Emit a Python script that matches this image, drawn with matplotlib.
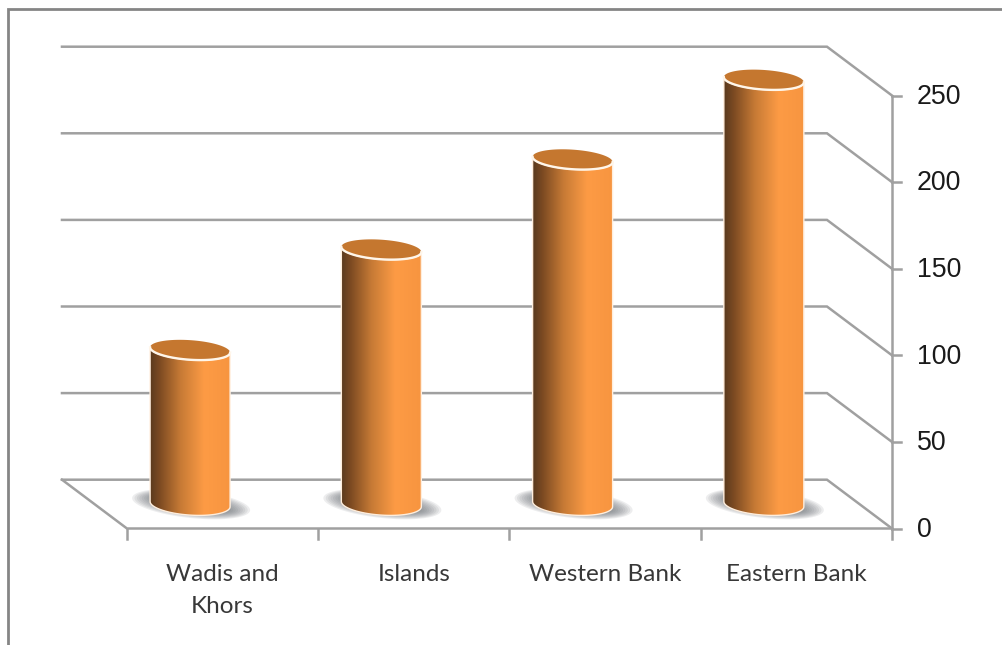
import numpy as np
import matplotlib
matplotlib.use("Agg")
import matplotlib.pyplot as plt
from matplotlib.colors import LinearSegmentedColormap
from matplotlib.patches import PathPatch
from matplotlib.path import Path

# Data
categories = ["Wadis and\nKhors", "Islands", "Western Bank", "Eastern Bank"]
values = [89, 147, 199, 245]
y_ticks = [0, 50, 100, 150, 200, 250]

# Scale of the figure: pixels per category and per unit of value
W, H = 1002, 645
px_x = 191.25
px_y = 1.732
x0_px, y0_px = 222.6, 528.5

fig = plt.figure(figsize=(W / 100, H / 100), dpi=100, facecolor="white")
ax = fig.add_axes([0, 0, 1, 1])
xlim = (-x0_px / px_x, (W - x0_px) / px_x)
ylim = (-(H - y0_px) / px_y, y0_px / px_y)
ax.set_xlim(xlim)
ax.set_ylim(ylim)
ax.axis("off")

# Depth of the 3D box, in data units
depth_x = -65 / px_x
depth_y = 48.8 / px_y
left = -0.5
right = len(categories) - 0.5
grid_col = "#a0a0a0"

# Outer frame
frame_x = xlim[0] + 8 / px_x
frame_y = ylim[1] - 9 / px_y
ax.plot([frame_x, frame_x, xlim[1]], [ylim[0], frame_y, frame_y],
        color="#858585", lw=2, zorder=1, solid_joinstyle="miter")

# Back wall gridlines and the side wall
for v in y_ticks:
    ax.plot([left + depth_x, right + depth_x, right], [v + depth_y, v + depth_y, v],
            color=grid_col, lw=1.8, zorder=2, solid_joinstyle="miter")

# Floor and axes
ax.plot([left + depth_x, left, right], [depth_y, 0, 0], color=grid_col, lw=1.8, zorder=2)
ax.plot([right, right], [0, 250], color=grid_col, lw=1.8, zorder=2)
for i in range(len(categories) + 1):
    ax.plot([left + i] * 2, [0, -6], color=grid_col, lw=1.8, zorder=2)
for v in y_ticks:
    ax.plot([right, right + 0.045], [v, v], color=grid_col, lw=1.8, zorder=2)
    ax.text(right + 0.13, v - 0.8, str(v), ha="left", va="center", fontsize=19.3,
            family="Liberation Sans", color="#1a1a1a")

# Category labels
for i, name in enumerate(categories):
    ax.text(i, -20.5, name, ha="center", va="top", fontsize=17.5, family="Lato",
            color="#383838", linespacing=1.62)

# Cylinders
cyl_cmap = LinearSegmentedColormap.from_list(
    "cyl", [(0, "#5a3a1e"), (0.12, "#7c4a22"), (0.38, "#c67a35"), (0.68, "#fd9b45"), (1, "#f79540")])
half_w = 40 / px_x
base_h = 11 / px_y
lid_h = 9.8 / px_y
lean = 2.6 / px_y  # ellipses drop towards the right


def ellipse_xy(cx, cy, h, t):
    return cx + half_w * np.cos(t), cy + h * np.sin(t) - lean * np.cos(t)


for i, v in enumerate(values):
    cx = i + depth_x / 2
    cy = depth_y / 2

    # Soft shadow on the floor, tilted and wider than the base
    tt = np.linspace(0, 2 * np.pi, 120)
    for k in range(10):
        sw = (59 - k * 2.4) / px_x
        sh = (14 - k * 0.9) / px_y
        ax.fill(cx + 1 / px_x + sw * np.cos(tt),
                cy + sh * np.sin(tt) - 6 / px_y * np.cos(tt),
                facecolor="#6d7278", edgecolor="none", alpha=0.12, zorder=3)

    # Body outline: sides plus the lower half of both end ellipses
    t = np.linspace(np.pi, 2 * np.pi, 60)
    bx, by = ellipse_xy(cx, cy, base_h, t)
    tx, ty = ellipse_xy(cx, cy + v, lid_h, t[::-1])
    verts = np.column_stack([np.r_[bx, tx], np.r_[by, ty]])
    verts = np.vstack([verts, verts[0]])
    body = Path(verts)

    im = ax.imshow(np.linspace(0, 1, 256)[None, :], cmap=cyl_cmap, aspect="auto",
                   extent=[cx - half_w, cx + half_w, cy - 2 * base_h, cy + v + 2 * lid_h],
                   zorder=4, interpolation="bilinear")
    clip = PathPatch(body, facecolor="none", edgecolor="none", transform=ax.transData)
    ax.add_patch(clip)
    im.set_clip_path(clip)
    ax.add_patch(PathPatch(body, facecolor="none", edgecolor="#ffeedd", lw=1.0, zorder=5))

    # Top ellipse
    lx, ly = ellipse_xy(cx, cy + v, lid_h, tt)
    ax.fill(lx, ly, facecolor="#c5772f", edgecolor="none", zorder=6)
    rx, ry = ellipse_xy(cx, cy + v, lid_h, t)
    ax.plot(rx, ry, color="#fff6ea", lw=1.7, zorder=7)

ax.set_xlim(xlim)
ax.set_ylim(ylim)
fig.savefig("out.png", dpi=100, facecolor="white")
